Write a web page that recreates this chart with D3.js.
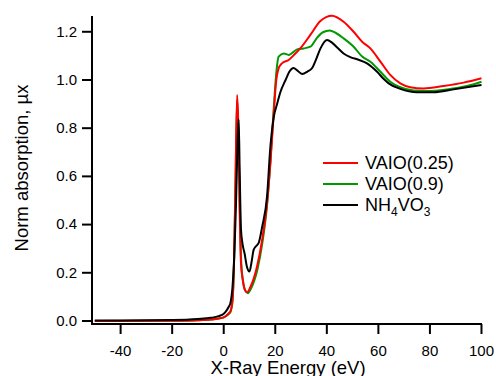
<!DOCTYPE html>
<html>
<head>
<meta charset="utf-8">
<script src="https://cdn.jsdelivr.net/npm/d3@7"></script>
<style>
  body { margin: 0; background: #fff; }
  svg text { font-family: "Liberation Sans", Arial, sans-serif; fill: #000; }
</style>
</head>
<body>
<div id="chart"></div>
<script>
// energies (eV) and normalised absorption
var redE = [-50, -20, -10, -5, -2, 0, 1, 2, 2.6, 3.4, 4.0, 4.6, 5.2, 5.7, 6.2, 6.7, 7.4, 8.2, 9.1, 10.4, 12.9, 14.9, 16.8, 18.1, 19.4, 20.4, 21.2, 22.6, 25.2, 27.8, 29.7, 33.6, 37.5, 42, 46.5, 50.4, 53.7, 56.9, 60.8, 64.6, 68.5, 72.4, 77.5, 85.3, 93.1, 100]
var redV = [0.0, 0.001, 0.003, 0.006, 0.01, 0.015, 0.022, 0.032, 0.04, 0.087, 0.25, 0.6, 0.938, 0.8, 0.45, 0.24, 0.17, 0.13, 0.119, 0.142, 0.225, 0.336, 0.488, 0.654, 0.862, 1.0, 1.045, 1.069, 1.083, 1.11, 1.131, 1.187, 1.245, 1.267, 1.242, 1.2, 1.159, 1.131, 1.076, 1.021, 0.986, 0.97, 0.965, 0.975, 0.989, 1.007]

var greenE = [-50, -20, -10, -5, -2, 0, 1, 2, 2.6, 3.4, 4.0, 4.6, 5.2, 5.7, 6.3, 6.8, 7.5, 8.4, 9.4, 10.6, 13.1, 15, 16.8, 18.1, 19.4, 20.4, 21.3, 23.3, 25.2, 28.5, 31, 33.6, 36.2, 38.5, 41.1, 43.5, 46.5, 50.4, 53.7, 56.9, 60.8, 64.6, 68.5, 73.7, 78.9, 86.6, 94.4, 100]
var greenV = [0.0, 0.001, 0.003, 0.006, 0.01, 0.015, 0.021, 0.03, 0.037, 0.08, 0.24, 0.58, 0.92, 0.78, 0.44, 0.24, 0.165, 0.125, 0.115, 0.135, 0.215, 0.325, 0.48, 0.66, 0.88, 1.03, 1.097, 1.11, 1.104, 1.127, 1.131, 1.138, 1.175, 1.198, 1.205, 1.195, 1.173, 1.138, 1.097, 1.076, 1.034, 0.993, 0.97, 0.956, 0.954, 0.961, 0.975, 0.993]

var blackE = [-50, -20, -10, -5, -2, 0, 1, 2, 2.6, 3.4, 3.9, 4.8, 5.4, 5.8, 6.2, 6.7, 7.3, 8.1, 9.0, 10, 10.8, 11.6, 12.5, 13.6, 14.9, 16.8, 18.1, 19.4, 20.7, 22, 24, 25.5, 27.1, 28.5, 30.4, 32.5, 34.3, 36, 37.5, 40.1, 42, 44, 46.5, 49.1, 52, 55.6, 59.5, 62, 64, 68.5, 75, 81.4, 89.2, 100]
var blackV = [0.002, 0.004, 0.008, 0.013, 0.02, 0.03, 0.042, 0.06, 0.075, 0.14, 0.225, 0.5, 0.75, 0.837, 0.62, 0.38, 0.32, 0.28, 0.225, 0.205, 0.245, 0.295, 0.31, 0.325, 0.39, 0.516, 0.723, 0.845, 0.9, 0.95, 1.0, 1.035, 1.05, 1.04, 1.025, 1.035, 1.05, 1.09, 1.13, 1.166, 1.155, 1.135, 1.11, 1.095, 1.085, 1.069, 1.034, 1.005, 0.986, 0.963, 0.949, 0.949, 0.961, 0.979]

var xTicks = [-40, -20, 0, 20, 40, 60, 80, 100]
var yTicks = [0.0, 0.2, 0.4, 0.6, 0.8, 1.0, 1.2]

var legendNames = ["VAIO(0.25)", "VAIO(0.9)", "NH4VO3"]
var legendColors = ["#ff0000", "#009900", "#000000"]

var width = 496, height = 376

var svg = d3.select("#chart").append("svg")
    .attr("width", width)
    .attr("height", height)

var x = d3.scaleLinear().domain([-51.1, 100.2]).range([92, 482])
var y = d3.scaleLinear().domain([-0.0125, 1.2655]).range([324, 16])

// axes (plain hyphen for negatives, like the original)
var xAxis = d3.axisBottom(x).tickValues(xTicks).tickSize(10).tickSizeOuter(0)
    .tickPadding(11).tickFormat(d => String(d)).offset(0)
var yAxis = d3.axisLeft(y).tickValues(yTicks).tickSize(10).tickSizeOuter(0)
    .tickPadding(5).tickFormat(d => d.toFixed(1)).offset(0)

var gx = svg.append("g").attr("transform", "translate(0,324)").call(xAxis)
var gy = svg.append("g").attr("transform", "translate(92,0)").call(yAxis)

;[gx, gy].forEach(g => {
    g.selectAll("path, line").attr("stroke", "#000").attr("stroke-width", 2)
    g.selectAll("text").attr("font-size", 15).attr("fill", "#111")
        .style("font-family", "'Liberation Sans', Arial, sans-serif")
})
// extend x axis line over the y axis corner
gx.select(".domain").attr("d", "M91,0H482")
gy.select(".domain").attr("d", "M0,16V325")

// axis titles
svg.append("text")
    .attr("x", 288).attr("y", 374)
    .attr("text-anchor", "middle")
    .attr("font-size", 18.5)
    .text("X-Ray Energy (eV)")

svg.append("text")
    .attr("transform", "translate(28,168) rotate(-90)")
    .attr("text-anchor", "middle")
    .attr("font-size", 18.5)
    .text("Norm absorption, µx")

// lines
var line = d3.line()
    .x(d => x(d[0]))
    .y(d => y(d[1]))
    .curve(d3.curveMonotoneX)

function pairs(es, vs) { return es.map((e, i) => [e, vs[i]]) }

var series = [
    {data: pairs(greenE, greenV), color: legendColors[1]},
    {data: pairs(redE, redV), color: legendColors[0]},
    {data: pairs(blackE, blackV), color: legendColors[2]}
]

svg.selectAll("path.series")
    .data(series)
    .join("path")
        .attr("class", "series")
        .attr("fill", "none")
        .attr("stroke", d => d.color)
        .attr("stroke-width", 2)
        .attr("stroke-linejoin", "round")
        .attr("d", d => line(d.data))

// legend
var legend = svg.append("g").attr("transform", "translate(323,163)")
legendNames.forEach((name, i) => {
    var row = legend.append("g").attr("transform", `translate(0,${i*21})`)
    row.append("line")
        .attr("x1", 0).attr("x2", 35)
        .attr("stroke", legendColors[i]).attr("stroke-width", 2)
    var t = row.append("text").attr("x", 42).attr("y", 6).attr("font-size", 18)
    if (name == "NH4VO3") {
        t.append("tspan").text("NH")
        t.append("tspan").attr("font-size", 12).attr("dy", 5).text("4")
        t.append("tspan").attr("dy", -5).text("VO")
        t.append("tspan").attr("font-size", 12).attr("dy", 5).text("3")
    } else {
        t.text(name)
    }
})
</script>
</body>
</html>
